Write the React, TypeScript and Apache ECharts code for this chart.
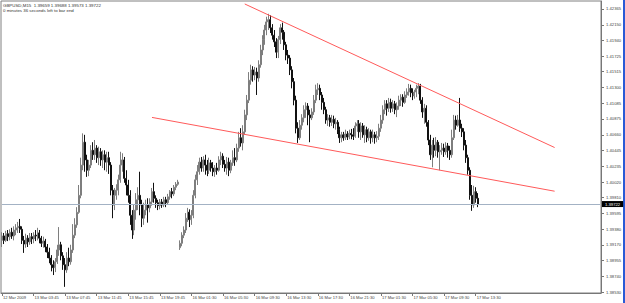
import React, { useEffect, useRef } from "react";
import * as echarts from "echarts";

// GBPUSD M15 candles: [open, close, low, high]
const ohlc: number[][] = [
  [1.3923, 1.3929, 1.3914, 1.3934], [1.3929, 1.3923, 1.3918, 1.3933], [1.3923, 1.3932, 1.3921, 1.3936], [1.3932, 1.3928, 1.3922, 1.3937],
  [1.3928, 1.3934, 1.3923, 1.3938], [1.3934, 1.3929, 1.3925, 1.3940], [1.3929, 1.3937, 1.3923, 1.3942], [1.3937, 1.3940, 1.3930, 1.3945],
  [1.3940, 1.3942, 1.3933, 1.3948], [1.3942, 1.3938, 1.3933, 1.3952], [1.3938, 1.3923, 1.3918, 1.3942], [1.3923, 1.3918, 1.3906, 1.3929],
  [1.3918, 1.3926, 1.3913, 1.3932], [1.3926, 1.3921, 1.3914, 1.3930], [1.3921, 1.3928, 1.3917, 1.3933], [1.3928, 1.3925, 1.3918, 1.3933],
  [1.3925, 1.3930, 1.3919, 1.3934], [1.3930, 1.3929, 1.3922, 1.3937], [1.3929, 1.3933, 1.3923, 1.3940], [1.3933, 1.3926, 1.3919, 1.3937],
  [1.3926, 1.3919, 1.3914, 1.3929], [1.3919, 1.3922, 1.3913, 1.3928], [1.3922, 1.3914, 1.3907, 1.3925], [1.3914, 1.3907, 1.3899, 1.3918],
  [1.3907, 1.3899, 1.3892, 1.3913], [1.3899, 1.3890, 1.3881, 1.3903], [1.3890, 1.3886, 1.3876, 1.3896], [1.3886, 1.3894, 1.3880, 1.3899],
  [1.3894, 1.3910, 1.3891, 1.3917], [1.3910, 1.3917, 1.3902, 1.3941], [1.3917, 1.3902, 1.3896, 1.3921], [1.3902, 1.3890, 1.3883, 1.3907],
  [1.3890, 1.3883, 1.3860, 1.3899], [1.3883, 1.3899, 1.3879, 1.3907], [1.3899, 1.3894, 1.3888, 1.3913], [1.3894, 1.3910, 1.3890, 1.3917],
  [1.3910, 1.3930, 1.3906, 1.3945], [1.3930, 1.3944, 1.3926, 1.3953], [1.3944, 1.3961, 1.3940, 1.3968], [1.3961, 1.3984, 1.3959, 1.3998],
  [1.3984, 1.4025, 1.3980, 1.4035], [1.4025, 1.4056, 1.4018, 1.4068], [1.4056, 1.4032, 1.4016, 1.4066], [1.4032, 1.4018, 1.4009, 1.4039],
  [1.4018, 1.4025, 1.4010, 1.4032], [1.4025, 1.4045, 1.4021, 1.4052], [1.4045, 1.4039, 1.4032, 1.4056], [1.4039, 1.4048, 1.4032, 1.4059],
  [1.4048, 1.4035, 1.4028, 1.4052], [1.4035, 1.4043, 1.4025, 1.4050], [1.4043, 1.4032, 1.4024, 1.4048], [1.4032, 1.4039, 1.4021, 1.4045],
  [1.4039, 1.4029, 1.4018, 1.4045], [1.4029, 1.4035, 1.4016, 1.4043], [1.4035, 1.4025, 1.4013, 1.4043], [1.4025, 1.3991, 1.3984, 1.4029],
  [1.3991, 1.3971, 1.3953, 1.3998], [1.3971, 1.3984, 1.3964, 1.3994], [1.3984, 1.3991, 1.3978, 1.3999], [1.3991, 1.4005, 1.3984, 1.4012],
  [1.4005, 1.4025, 1.4001, 1.4043], [1.4025, 1.4032, 1.4016, 1.4041], [1.4032, 1.4007, 1.4001, 1.4036], [1.4007, 1.3998, 1.3984, 1.4018],
  [1.3998, 1.3984, 1.3974, 1.4005], [1.3984, 1.3957, 1.3944, 1.3991], [1.3957, 1.3937, 1.3925, 1.3964], [1.3937, 1.3964, 1.3930, 1.3971],
  [1.3964, 1.3978, 1.3951, 1.3987], [1.3978, 1.3984, 1.3964, 1.3995], [1.3984, 1.3971, 1.3957, 1.4016], [1.3971, 1.3953, 1.3941, 1.3978],
  [1.3953, 1.3964, 1.3944, 1.3974], [1.3964, 1.3971, 1.3957, 1.3978], [1.3971, 1.3967, 1.3947, 1.3980], [1.3967, 1.3975, 1.3961, 1.3980],
  [1.3975, 1.3989, 1.3970, 1.3994], [1.3989, 1.3980, 1.3974, 1.4001], [1.3980, 1.3974, 1.3967, 1.3984], [1.3974, 1.3970, 1.3964, 1.3978],
  [1.3970, 1.3975, 1.3965, 1.3979], [1.3975, 1.3971, 1.3967, 1.3979], [1.3971, 1.3978, 1.3968, 1.3982], [1.3978, 1.3974, 1.3968, 1.3982],
  [1.3974, 1.3982, 1.3971, 1.3986], [1.3982, 1.3989, 1.3978, 1.3991], [1.3989, 1.3986, 1.3980, 1.3994], [1.3986, 1.3995, 1.3983, 1.3998],
  [1.3995, 1.3999, 1.3991, 1.4002], [1.3999, 1.4002, 1.3997, 1.4005],
  [1.3913, 1.3919, 1.3910, 1.3923], [1.3919, 1.3930, 1.3915, 1.3934], [1.3930, 1.3937, 1.3926, 1.3942], [1.3937, 1.3953, 1.3933, 1.3960],
  [1.3953, 1.3961, 1.3948, 1.3967], [1.3961, 1.3951, 1.3941, 1.3965], [1.3951, 1.3957, 1.3944, 1.3964], [1.3957, 1.3984, 1.3953, 1.3991],
  [1.3984, 1.4005, 1.3980, 1.4012], [1.4005, 1.4016, 1.3998, 1.4025], [1.4016, 1.4029, 1.4012, 1.4035], [1.4029, 1.4021, 1.4016, 1.4036],
  [1.4021, 1.4032, 1.4016, 1.4037], [1.4032, 1.4025, 1.4012, 1.4039], [1.4025, 1.4018, 1.4010, 1.4032], [1.4018, 1.4028, 1.4013, 1.4035],
  [1.4028, 1.4021, 1.4016, 1.4032], [1.4021, 1.4016, 1.4010, 1.4029], [1.4016, 1.4021, 1.4009, 1.4025], [1.4021, 1.4018, 1.4012, 1.4028],
  [1.4018, 1.4032, 1.4016, 1.4037], [1.4032, 1.4037, 1.4025, 1.4043], [1.4037, 1.4026, 1.4021, 1.4041], [1.4026, 1.4021, 1.4016, 1.4032],
  [1.4021, 1.4029, 1.4012, 1.4036], [1.4029, 1.4018, 1.4010, 1.4035], [1.4018, 1.4028, 1.4014, 1.4032], [1.4028, 1.4035, 1.4024, 1.4045],
  [1.4035, 1.4032, 1.4024, 1.4048], [1.4032, 1.4048, 1.4029, 1.4054], [1.4048, 1.4062, 1.4043, 1.4070], [1.4062, 1.4055, 1.4050, 1.4075],
  [1.4055, 1.4070, 1.4045, 1.4079], [1.4070, 1.4093, 1.4066, 1.4100], [1.4093, 1.4113, 1.4086, 1.4120], [1.4113, 1.4140, 1.4109, 1.4151],
  [1.4140, 1.4154, 1.4134, 1.4161], [1.4154, 1.4147, 1.4138, 1.4159], [1.4147, 1.4151, 1.4140, 1.4158], [1.4151, 1.4143, 1.4120, 1.4157],
  [1.4143, 1.4161, 1.4138, 1.4167], [1.4161, 1.4181, 1.4157, 1.4188], [1.4181, 1.4195, 1.4174, 1.4201], [1.4195, 1.4208, 1.4188, 1.4215],
  [1.4208, 1.4219, 1.4201, 1.4226], [1.4219, 1.4222, 1.4208, 1.4230], [1.4222, 1.4211, 1.4204, 1.4228], [1.4211, 1.4201, 1.4195, 1.4216],
  [1.4201, 1.4192, 1.4185, 1.4208], [1.4192, 1.4178, 1.4170, 1.4197], [1.4178, 1.4195, 1.4170, 1.4200], [1.4195, 1.4211, 1.4189, 1.4216],
  [1.4211, 1.4205, 1.4195, 1.4218], [1.4205, 1.4188, 1.4181, 1.4208], [1.4188, 1.4174, 1.4167, 1.4192], [1.4174, 1.4170, 1.4162, 1.4181],
  [1.4170, 1.4154, 1.4147, 1.4174], [1.4154, 1.4138, 1.4129, 1.4159], [1.4138, 1.4113, 1.4106, 1.4143], [1.4113, 1.4075, 1.4068, 1.4119],
  [1.4075, 1.4062, 1.4055, 1.4083], [1.4062, 1.4079, 1.4059, 1.4086], [1.4079, 1.4089, 1.4073, 1.4094], [1.4089, 1.4100, 1.4083, 1.4106],
  [1.4100, 1.4105, 1.4089, 1.4110], [1.4105, 1.4093, 1.4079, 1.4109], [1.4093, 1.4089, 1.4056, 1.4100], [1.4089, 1.4097, 1.4086, 1.4102],
  [1.4097, 1.4113, 1.4093, 1.4120], [1.4113, 1.4127, 1.4109, 1.4134], [1.4127, 1.4129, 1.4120, 1.4136], [1.4129, 1.4120, 1.4113, 1.4134],
  [1.4120, 1.4110, 1.4100, 1.4124], [1.4110, 1.4100, 1.4094, 1.4116], [1.4100, 1.4086, 1.4081, 1.4104], [1.4086, 1.4089, 1.4078, 1.4094],
  [1.4089, 1.4083, 1.4077, 1.4093], [1.4083, 1.4087, 1.4078, 1.4093], [1.4087, 1.4081, 1.4075, 1.4092], [1.4081, 1.4083, 1.4073, 1.4089],
  [1.4083, 1.4073, 1.4067, 1.4086], [1.4073, 1.4062, 1.4055, 1.4077], [1.4062, 1.4066, 1.4056, 1.4070], [1.4066, 1.4062, 1.4058, 1.4070],
  [1.4062, 1.4067, 1.4059, 1.4073], [1.4067, 1.4063, 1.4059, 1.4071], [1.4063, 1.4068, 1.4060, 1.4073], [1.4068, 1.4066, 1.4060, 1.4074],
  [1.4066, 1.4064, 1.4059, 1.4075], [1.4064, 1.4078, 1.4062, 1.4083], [1.4078, 1.4081, 1.4070, 1.4086], [1.4081, 1.4070, 1.4062, 1.4086],
  [1.4070, 1.4078, 1.4059, 1.4083], [1.4078, 1.4066, 1.4062, 1.4082], [1.4066, 1.4073, 1.4055, 1.4079], [1.4073, 1.4062, 1.4056, 1.4077],
  [1.4062, 1.4070, 1.4058, 1.4075], [1.4070, 1.4062, 1.4054, 1.4073], [1.4062, 1.4066, 1.4056, 1.4073], [1.4066, 1.4062, 1.4054, 1.4070],
  [1.4062, 1.4064, 1.4056, 1.4071], [1.4064, 1.4075, 1.4059, 1.4081], [1.4075, 1.4086, 1.4070, 1.4093], [1.4086, 1.4100, 1.4081, 1.4106],
  [1.4100, 1.4108, 1.4094, 1.4113], [1.4108, 1.4102, 1.4092, 1.4113], [1.4102, 1.4110, 1.4097, 1.4116], [1.4110, 1.4102, 1.4096, 1.4115],
  [1.4102, 1.4108, 1.4097, 1.4113], [1.4108, 1.4100, 1.4094, 1.4112], [1.4100, 1.4105, 1.4090, 1.4110], [1.4105, 1.4113, 1.4100, 1.4119],
  [1.4113, 1.4117, 1.4105, 1.4121], [1.4117, 1.4110, 1.4104, 1.4121], [1.4110, 1.4120, 1.4108, 1.4125], [1.4120, 1.4124, 1.4116, 1.4129],
  [1.4124, 1.4129, 1.4119, 1.4135], [1.4129, 1.4123, 1.4117, 1.4134], [1.4123, 1.4119, 1.4113, 1.4129], [1.4119, 1.4124, 1.4115, 1.4127],
  [1.4124, 1.4129, 1.4117, 1.4134], [1.4129, 1.4132, 1.4121, 1.4136], [1.4132, 1.4113, 1.4108, 1.4135], [1.4113, 1.4097, 1.4089, 1.4117],
  [1.4097, 1.4102, 1.4081, 1.4108], [1.4102, 1.4083, 1.4077, 1.4106], [1.4083, 1.4059, 1.4052, 1.4086], [1.4059, 1.4039, 1.4032, 1.4066],
  [1.4039, 1.4052, 1.4022, 1.4059], [1.4052, 1.4045, 1.4035, 1.4062], [1.4045, 1.4056, 1.4037, 1.4063], [1.4056, 1.4043, 1.4035, 1.4059],
  [1.4043, 1.4045, 1.4018, 1.4052], [1.4045, 1.4048, 1.4039, 1.4055], [1.4048, 1.4043, 1.4036, 1.4054], [1.4043, 1.4051, 1.4039, 1.4056],
  [1.4051, 1.4045, 1.4035, 1.4055], [1.4045, 1.4039, 1.4032, 1.4051], [1.4039, 1.4062, 1.4035, 1.4073], [1.4062, 1.4086, 1.4059, 1.4093],
  [1.4086, 1.4079, 1.4073, 1.4092], [1.4079, 1.4086, 1.4077, 1.4093], [1.4086, 1.4075, 1.4070, 1.4116], [1.4075, 1.4070, 1.4063, 1.4081],
  [1.4070, 1.4052, 1.4045, 1.4075], [1.4052, 1.4035, 1.4028, 1.4059], [1.4035, 1.4018, 1.4012, 1.4039], [1.4018, 1.3984, 1.3978, 1.4022],
  [1.3984, 1.3971, 1.3963, 1.3998], [1.3971, 1.3989, 1.3967, 1.3997], [1.3989, 1.3980, 1.3974, 1.3995], [1.3980, 1.3972, 1.3968, 1.3987],
];

// bars before the weekend gap (12 Mar 23:45 .. 13 Mar 22:00)
const fridayBars = 90;
const totalSlots = 304; // includes empty space to the right (chart shift)
const xTickLabels = [
  "12 Mar 2009", "13 Mar 03:45", "13 Mar 07:45", "13 Mar 11:45", "13 Mar 15:45", "13 Mar 19:45",
  "16 Mar 01:30", "16 Mar 05:30", "16 Mar 09:30", "16 Mar 13:30", "16 Mar 17:30", "16 Mar 21:30",
  "17 Mar 01:30", "17 Mar 05:30", "17 Mar 09:30", "17 Mar 13:30",
];
const yTickLabels = [
  1.3853, 1.3874, 1.38955, 1.3917, 1.3938, 1.39595, 1.3981, 1.4002, 1.40235, 1.40445,
  1.4066, 1.40875, 1.41085, 1.413, 1.41515, 1.41725, 1.4194, 1.4215, 1.42365,
];
const currentPrice = 1.39722;
const upperTrend = [[123, 1.42433], [280, 1.40488]];
const lowerTrend = [[76, 1.40896], [280, 1.39896]];
const headerLine1 = "GBPUSD,M15  1.39659 1.39688 1.39573 1.39722";
const headerLine2 = "0 minutes 36 seconds left to bar end";

const MONTHS = ["Jan", "Feb", "Mar", "Apr", "May", "Jun", "Jul", "Aug", "Sep", "Oct", "Nov", "Dec"];
const pad = (n: number) => (n < 10 ? "0" + n : "" + n);
function slotName(i: number): string {
  if (i >= ohlc.length) return "s" + i;
  const start = i < fridayBars ? Date.UTC(2009, 2, 12, 23, 45) : Date.UTC(2009, 2, 16, 0, 0);
  const k = i < fridayBars ? i : i - fridayBars;
  const d = new Date(start + k * 15 * 60000);
  return `${d.getUTCDate()} ${MONTHS[d.getUTCMonth()]} ${pad(d.getUTCHours())}:${pad(d.getUTCMinutes())}`;
}
const categories = Array.from({ length: totalSlots }, (_, i) => slotName(i));

const FONT = "'Liberation Sans', Arial, sans-serif";
const showTick = (index: number) => index % 16 === 0 && index / 16 < xTickLabels.length && index < ohlc.length;

export default function App() {
  const ref = useRef<HTMLDivElement>(null);
  useEffect(() => {
    if (!ref.current) return;
    const chart = echarts.init(ref.current, undefined, { renderer: "svg" });
    const red = { color: "#ff5a5a", width: 1, type: "solid" as const };
    chart.setOption({
      animation: false,
      textStyle: { fontFamily: FONT },
      grid: { left: 1, right: 24, top: 1, bottom: 10, show: true, borderColor: "#808080", borderWidth: 1, backgroundColor: "#fff" },
      xAxis: {
        type: "category",
        data: categories,
        boundaryGap: true,
        axisLine: { show: true, lineStyle: { color: "#777", width: 1 } },
        axisTick: { show: true, alignWithLabel: true, length: 3, interval: (i: number) => showTick(i), lineStyle: { color: "#777" } },
        axisLabel: {
          show: true,
          interval: (i: number) => showTick(i),
          formatter: (_v: string, i: number) => (i % 16 === 0 ? xTickLabels[i / 16] ?? "" : ""),
          align: "left",
          padding: [0, 0, 0, 1],
          margin: 2,
          fontSize: 4.1,
          color: "#444",
          fontFamily: FONT,
        },
        splitLine: { show: false },
      },
      yAxis: {
        type: "value",
        position: "right",
        scale: true,
        min: 1.385166,
        max: 1.424734,
        axisLine: { show: true, lineStyle: { color: "#777", width: 1 } },
        axisTick: { show: true, length: 3, customValues: yTickLabels, lineStyle: { color: "#777" } },
        axisLabel: {
          show: true,
          customValues: yTickLabels,
          formatter: (v: number) => v.toFixed(5),
          margin: 5,
          fontSize: 4.2,
          color: "#444",
          fontFamily: FONT,
        },
        splitLine: { show: false },
      },
      series: [
        {
          type: "candlestick",
          data: ohlc,
          barWidth: 1.5,
          itemStyle: {
            color: "#a0a0a0",
            borderColor: "#7e7e7e",
            color0: "#111",
            borderColor0: "#111",
            borderWidth: 1,
          },
          markLine: {
            silent: true,
            symbol: ["none", "none"],
            animation: false,
            data: [
              [
                {
                  coord: [0, currentPrice],
                  lineStyle: { color: "#a3b2c4", width: 1, type: "solid" },
                  label: {
                    show: true,
                    position: "end",
                    distance: 2,
                    formatter: currentPrice.toFixed(5),
                    backgroundColor: "#000",
                    color: "#fff",
                    fontSize: 4.2,
                    padding: [1, 3, 1, 3],
                    fontFamily: FONT,
                  },
                },
                { coord: [totalSlots - 1, currentPrice] },
              ],
              [
                { coord: upperTrend[0], lineStyle: red, label: { show: false } },
                { coord: upperTrend[1] },
              ],
              [
                { coord: lowerTrend[0], lineStyle: red, label: { show: false } },
                { coord: lowerTrend[1] },
              ],
            ],
          },
        },
      ],
      graphic: [
        { type: "text", left: 3, top: 3, silent: true, style: { text: headerLine1, fontSize: 4.4, fill: "#333", fontFamily: FONT } },
        { type: "text", left: 3, top: 8, silent: true, style: { text: headerLine2, fontSize: 4.4, fill: "#333", fontFamily: FONT } },
        { type: "rect", right: 0, top: 0, silent: true, shape: { width: 2, height: 303 }, style: { fill: "#2a5ad6" } },
      ],
    });
    return () => chart.dispose();
  }, []);
  return <div ref={ref} style={{ position: "absolute", left: 0, top: 0, width: 625, height: 303 }} />;
}
